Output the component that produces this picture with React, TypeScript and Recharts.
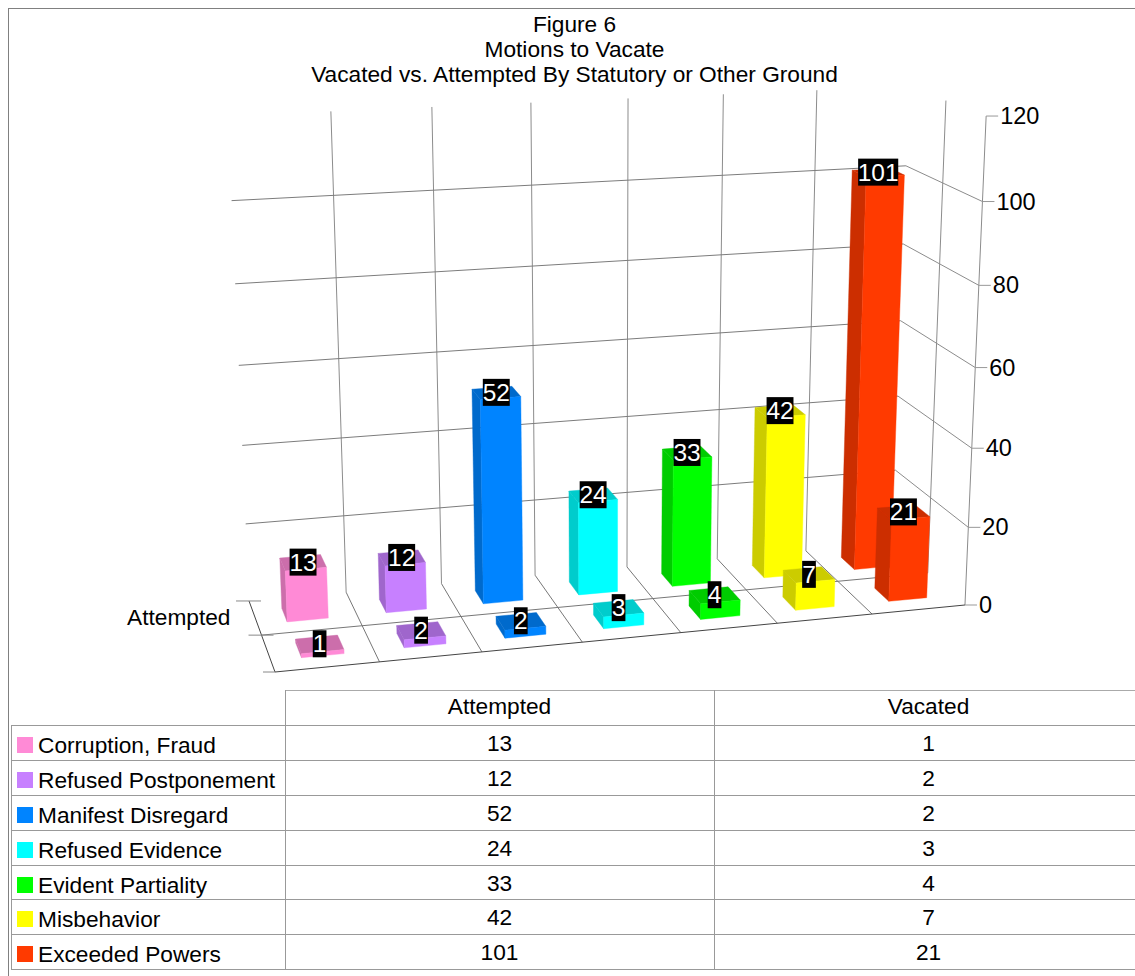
import React from 'react';
import { BarChart, Bar, XAxis, YAxis } from 'recharts';

const categories = [
  'Corruption, Fraud',
  'Refused Postponement',
  'Manifest Disregard',
  'Refused Evidence',
  'Evident Partiality',
  'Misbehavior',
  'Exceeded Powers',
];
const attempted = [13, 12, 52, 24, 33, 42, 101];
const vacated = [1, 2, 2, 3, 4, 7, 21];
const valueTicks = [0, 20, 40, 60, 80, 100, 120];
const titleLines = ['Figure 6', 'Motions to Vacate', 'Vacated vs. Attempted By Statutory or Other Ground'];
const seriesNames = ['Attempted', 'Vacated'];

const barColors = ['#ff8ad6', '#c780ff', '#0084ff', '#00ffff', '#00ff00', '#ffff00', '#ff3a00'];

const chartData = categories.map((name, i) => ({ name, attempted: attempted[i], vacated: vacated[i] }));

const FONT = '"Liberation Sans", Arial, sans-serif';
const FONT_SIZE = 22.7;
const CHART_W = 1135;
const CHART_H = 690;
const MARGIN = { top: 100, right: 100, bottom: 100, left: 40 };
const AXIS_W = 60;
const PLOT_LEFT = MARGIN.left + AXIS_W;
const PLOT_W = CHART_W - PLOT_LEFT - MARGIN.right;
const PLOT_BOTTOM = CHART_H - MARGIN.bottom;
const PLOT_H = CHART_H - MARGIN.top - MARGIN.bottom;
const MAX_VALUE = 120;

const BACK_ROW = 0.75;
const FRONT_ROW = 0.25;
const ROW_HALF_DEPTH = 0.1;

// perspective camera: u runs along the categories, d from front to back, v up the value axis
const project = (u: number, d: number, v: number): [number, number] => {
  const w = 1 + 0.0709 * u + 0.0794 * d - 0.06 * v;
  return [(275 + 758.4 * u - 6.2 * d - 36.5 * v) / w, (672 - 24.1 * u - 23.3 * d - 530.6 * v) / w];
};

const toU = (px: number) => (px - PLOT_LEFT) / PLOT_W;
const toV = (py: number) => (PLOT_BOTTOM - py) / PLOT_H;

const shade = (hex: string) => {
  const n = parseInt(hex.slice(1), 16);
  const c = [(n >> 16) & 255, (n >> 8) & 255, n & 255].map((x) => Math.round(x * 0.8));
  return `rgb(${c.join(',')})`;
};

const facePath = (pts: [number, number][]) =>
  'M' + pts.map((p) => `${p[0].toFixed(1)},${p[1].toFixed(1)}`).join('L') + 'Z';

const Seg = ({ a, b, stroke = '#8c8c8c' }: { a: [number, number]; b: [number, number]; stroke?: string }) => (
  <line x1={a[0]} y1={a[1]} x2={b[0]} y2={b[1]} stroke={stroke} strokeWidth={1} />
);

// back wall, right wall and floor lines, drawn underneath the bars
const Walls = () => {
  const n = categories.length;
  const inner = categories.slice(1).map((_, i) => (i + 1) / n);
  const levels = valueTicks.slice(1, -1).map((t) => t / MAX_VALUE);
  const left = project(0, 1, 0);
  const mid = project(0, 0.5, 0);
  const front = project(0, 0, 0);
  return (
    <g>
      {inner.map((u) => (
        <g key={u}>
          <Seg a={project(u, 1, 0)} b={project(u, 1, 1)} />
          <Seg a={project(u, 1, 0)} b={project(u, 0, 0)} stroke="#777" />
        </g>
      ))}
      {levels.map((v) => (
        <g key={v}>
          <Seg a={project(0, 1, v)} b={project(1, 1, v)} stroke="#7c7c7c" />
          <Seg a={project(1, 1, v)} b={project(1, 0, v)} />
        </g>
      ))}
      <Seg a={project(1, 0.5, 0)} b={project(1, 0.5, 1)} />
      <Seg a={project(1, 0, 0)} b={project(1, 0, 1)} />
      <Seg a={project(0, 0.5, 0)} b={project(1, 0.5, 0)} stroke="#777" />
      <Seg a={project(0, 1, 0)} b={project(0, 0, 0)} stroke="#444" />
      <Seg a={project(0, 0, 0)} b={project(1, 0, 0)} stroke="#444" />
      <Seg a={[left[0] - 13, left[1]]} b={[left[0] + 12, left[1]]} stroke="#888" />
      <Seg a={[mid[0] - 13, mid[1]]} b={[mid[0] + 12, mid[1]]} stroke="#888" />
      <Seg a={[front[0] - 12, front[1]]} b={front} stroke="#888" />
      <text
        x={230.5}
        y={(left[1] + mid[1]) / 2 - 1}
        textAnchor="end"
        dominantBaseline="central"
        fontFamily={FONT}
        fontSize={FONT_SIZE}
      >
        {seriesNames[0]}
      </text>
    </g>
  );
};

const ValueTick = ({ y, payload }: any) => {
  const p = project(1, 0, toV(y));
  return (
    <g>
      <line x1={p[0]} y1={p[1]} x2={p[0] + 12} y2={p[1]} stroke="#999" strokeWidth={1} />
      <text
        x={p[0] + 14}
        y={p[1]}
        textAnchor="start"
        dominantBaseline="central"
        fontFamily={FONT}
        fontSize={23.5}
        fill="#000"
      >
        {payload.value}
      </text>
    </g>
  );
};

// turns the flat bar from the scales into a prism on its row, with its value tag on top
const prismShape = (dataKey: 'attempted' | 'vacated', row: number) => (props: any) => {
  const { x, y, width, height, index, payload } = props;
  const u0 = toU(x);
  const u1 = toU(x + width);
  const top = toV(y);
  const base = toV(y + height);
  const d0 = row - ROW_HALF_DEPTH;
  const d1 = row + ROW_HALF_DEPTH;
  const color = barColors[index];
  const dark = shade(color);
  const value = payload[dataKey];
  const tag = project((u0 + u1) / 2, row, top);
  const tagW = String(value).length * 13.2 + 0.5;
  const faces: [string, [number, number][]][] = [
    [dark, [project(u0, d1, base), project(u0, d0, base), project(u0, d0, top), project(u0, d1, top)]],
    [dark, [project(u0, d0, top), project(u1, d0, top), project(u1, d1, top), project(u0, d1, top)]],
    [color, [project(u0, d0, base), project(u1, d0, base), project(u1, d0, top), project(u0, d0, top)]],
  ];
  return (
    <g>
      {faces.map(([fill, pts], i) => (
        <path key={i} d={facePath(pts)} fill={fill} stroke={fill} strokeWidth={0.4} />
      ))}
      <rect x={tag[0] - tagW / 2} y={tag[1] - 14} width={tagW} height={27} fill="#000" />
      <text
        x={tag[0]}
        y={tag[1] - 0.5}
        textAnchor="middle"
        dominantBaseline="central"
        fontFamily={FONT}
        fontSize={24.5}
        fill="#fff"
      >
        {value}
      </text>
    </g>
  );
};

const rowLine = (i: number) => 690 + Math.round(i * 34.9);
const COLS = [11, 285, 714, 1143];

const Cell = ({ left, width, row, shift = 0, children }: any) => (
  <div
    style={{
      position: 'absolute',
      left,
      width,
      top: rowLine(row) + 1 + shift,
      height: rowLine(row + 1) - rowLine(row),
      display: 'flex',
      alignItems: 'center',
      justifyContent: 'center',
      whiteSpace: 'nowrap',
    }}
  >
    {children}
  </div>
);

const DataTable = () => (
  <>
    {categories.concat('').map((_, i) => (
      <div
        key={i}
        style={{ position: 'absolute', left: COLS[0], right: 0, top: rowLine(i + 1), height: 1, background: '#999' }}
      />
    ))}
    <div style={{ position: 'absolute', left: COLS[1], right: 0, top: rowLine(0), height: 1, background: '#aaa' }} />
    <div
      style={{ position: 'absolute', left: COLS[0], top: rowLine(1), height: rowLine(8) - rowLine(1), width: 1, background: '#999' }}
    />
    {COLS.slice(1, 3).map((x) => (
      <div key={x} style={{ position: 'absolute', left: x, top: rowLine(0), height: rowLine(8) - rowLine(0), width: 1, background: '#999' }} />
    ))}
    {seriesNames.map((name, c) => (
      <Cell key={name} left={COLS[c + 1]} width={COLS[c + 2] - COLS[c + 1]} row={0} shift={-2}>
        {name}
      </Cell>
    ))}
    {categories.map((name, i) => (
      <React.Fragment key={name}>
        <div style={{ position: 'absolute', left: 17, top: rowLine(i + 1) + 12, width: 16, height: 16, background: barColors[i] }} />
        <div style={{ position: 'absolute', left: 38, top: rowLine(i + 1) + 3, lineHeight: '34px', whiteSpace: 'nowrap' }}>{name}</div>
        <Cell left={COLS[1]} width={COLS[2] - COLS[1]} row={i + 1}>
          {attempted[i]}
        </Cell>
        <Cell left={COLS[2]} width={COLS[3] - COLS[2]} row={i + 1}>
          {vacated[i]}
        </Cell>
      </React.Fragment>
    ))}
  </>
);

export default function App() {
  return (
    <div
      style={{
        position: 'absolute',
        left: 0,
        top: 0,
        width: 1135,
        height: 976,
        overflow: 'hidden',
        background: '#fff',
        fontFamily: FONT,
        fontSize: FONT_SIZE,
        color: '#000',
      }}
    >
      <div style={{ position: 'absolute', left: 8, top: 8, right: 0, height: 1, background: '#808080' }} />
      <div style={{ position: 'absolute', left: 8, top: 8, bottom: 0, width: 1, background: '#808080' }} />
      <BarChart
        width={CHART_W}
        height={CHART_H}
        data={chartData}
        margin={MARGIN}
        barCategoryGap="29.5%"
        style={{ position: 'absolute', left: 0, top: 0 }}
      >
        <Walls />
        <XAxis xAxisId="back" dataKey="name" hide />
        <XAxis xAxisId="front" dataKey="name" hide />
        <YAxis
          width={AXIS_W}
          domain={[0, MAX_VALUE]}
          ticks={valueTicks}
          interval={0}
          axisLine={false}
          tickLine={false}
          tick={<ValueTick />}
        />
        <Bar xAxisId="back" dataKey="attempted" shape={prismShape('attempted', BACK_ROW)} isAnimationActive={false} />
        <Bar xAxisId="front" dataKey="vacated" shape={prismShape('vacated', FRONT_ROW)} isAnimationActive={false} />
      </BarChart>
      {titleLines.map((line, i) => (
        <div
          key={line}
          style={{ position: 'absolute', left: 0, width: 1149, top: 12 + i * 25, lineHeight: '25px', textAlign: 'center' }}
        >
          {line}
        </div>
      ))}
      <DataTable />
    </div>
  );
}
